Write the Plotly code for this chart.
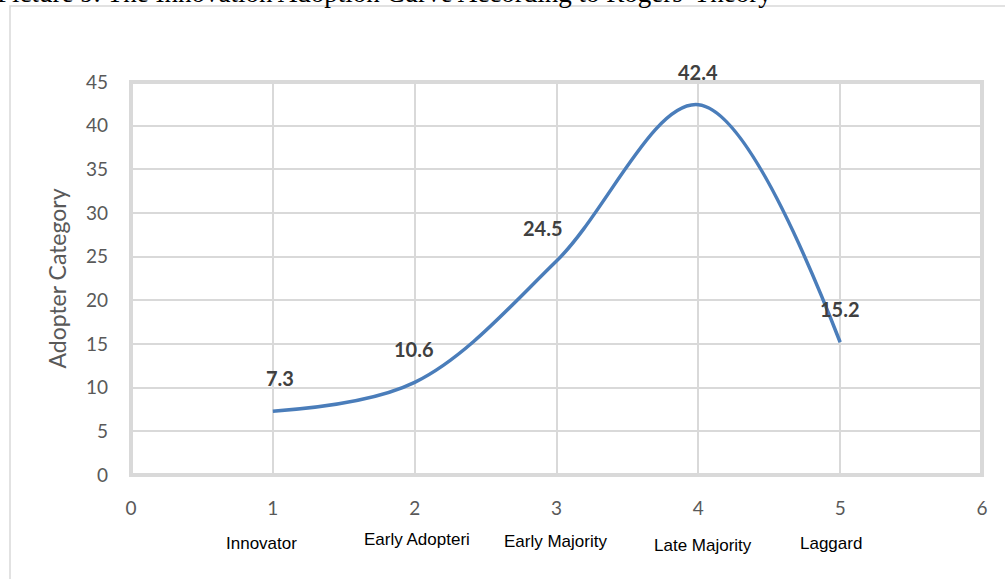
import plotly.graph_objects as go

# ---- data ----
x_vals = [1, 2, 3, 4, 5]
y_vals = [7.3, 10.6, 24.5, 42.4, 15.2]
point_labels = ["7.3", "10.6", "24.5", "42.4", "15.2"]
categories = ["Innovator", "Early Adopteri", "Early Majority", "Late Majority", "Laggard"]
y_ticks = [0, 5, 10, 15, 20, 25, 30, 35, 40, 45]
x_ticks = [0, 1, 2, 3, 4, 5, 6]
title_text = "Picture 9. The Innovation Adoption Curve According to Rogers' Theory"

# ---- style ----
GRID = "#D9D9D9"
LINE = "#4A7DBA"
TICKC = "#595959"
W, H = 1005, 579
ML, MR, MT, MB = 131, 23, 82, 104
PW, PH = W - ML - MR, H - MT - MB

def px_x(px):
    return (px - ML) / PW

def px_y(py):
    return (H - MB - py) / PH

fig = go.Figure()
fig.add_trace(go.Scatter(
    x=x_vals, y=y_vals, mode="lines",
    line=dict(color=LINE, width=3.5, shape="spline", smoothing=1.0),
    hoverinfo="skip", showlegend=False,
))

label_dx = [7, -1, -14, 0, 0]
for xv, yv, t, dx in zip(x_vals, y_vals, point_labels, label_dx):
    fig.add_annotation(x=xv, y=yv, text=t, showarrow=False, xref="x", yref="y",
                       xanchor="center", yanchor="middle", xshift=dx, yshift=33,
                       font=dict(family="Lato, Open Sans, sans-serif", size=20,
                                 color="#404040", weight="bold"))

cat_dx = [-11, 2, -1, 5, -9]
cat_py = [543, 539, 541, 545, 543]
for xv, c, dx, py in zip(x_vals, categories, cat_dx, cat_py):
    fig.add_annotation(x=xv, y=px_y(py), text=c, showarrow=False, xref="x", yref="paper",
                       xanchor="center", yanchor="middle", xshift=dx,
                       font=dict(family="Liberation Sans Narrow, Arial Narrow, sans-serif",
                                 size=17, color="#000000"))

# title (partially cut off at the top, as in the source)
fig.add_annotation(x=px_x(-5), y=px_y(10), xref="paper", yref="paper", text=title_text,
                   showarrow=False, xanchor="left", yanchor="bottom",
                   font=dict(family="Liberation Serif, Times New Roman, serif", size=27,
                             color="#000000"))

# outer chart border
fig.add_shape(type="rect", xref="paper", yref="paper",
              x0=px_x(10), x1=px_x(1100), y0=px_y(700), y1=px_y(6),
              line=dict(color=GRID, width=1.5), layer="below")
# plot area border
fig.add_shape(type="rect", xref="paper", yref="paper", x0=0, x1=1, y0=0, y1=1,
              line=dict(color=GRID, width=4), layer="below")

fig.update_layout(
    width=W, height=H,
    margin=dict(l=ML, r=MR, t=MT, b=MB),
    paper_bgcolor="white", plot_bgcolor="white",
    xaxis=dict(range=[0, 6], tickvals=x_ticks, showgrid=True, gridcolor=GRID, gridwidth=1.5,
               zeroline=False, showline=False, ticks="", ticklabelstandoff=20,
               tickfont=dict(family="Lato, Open Sans, sans-serif", size=19, color=TICKC)),
    yaxis=dict(range=[0, 45], tickvals=y_ticks, showgrid=True, gridcolor=GRID, gridwidth=1.5,
               zeroline=False, showline=False, ticks="", ticklabelstandoff=22,
               title=dict(text="Adopter Category", standoff=12,
                          font=dict(family="Lato, Open Sans, sans-serif", size=23, color=TICKC)),
               tickfont=dict(family="Lato, Open Sans, sans-serif", size=19, color=TICKC)),
)

fig.write_html("out.html", config={"displayModeBar": False},
               post_script="document.body.style.margin='0';document.body.style.overflow='hidden';")
